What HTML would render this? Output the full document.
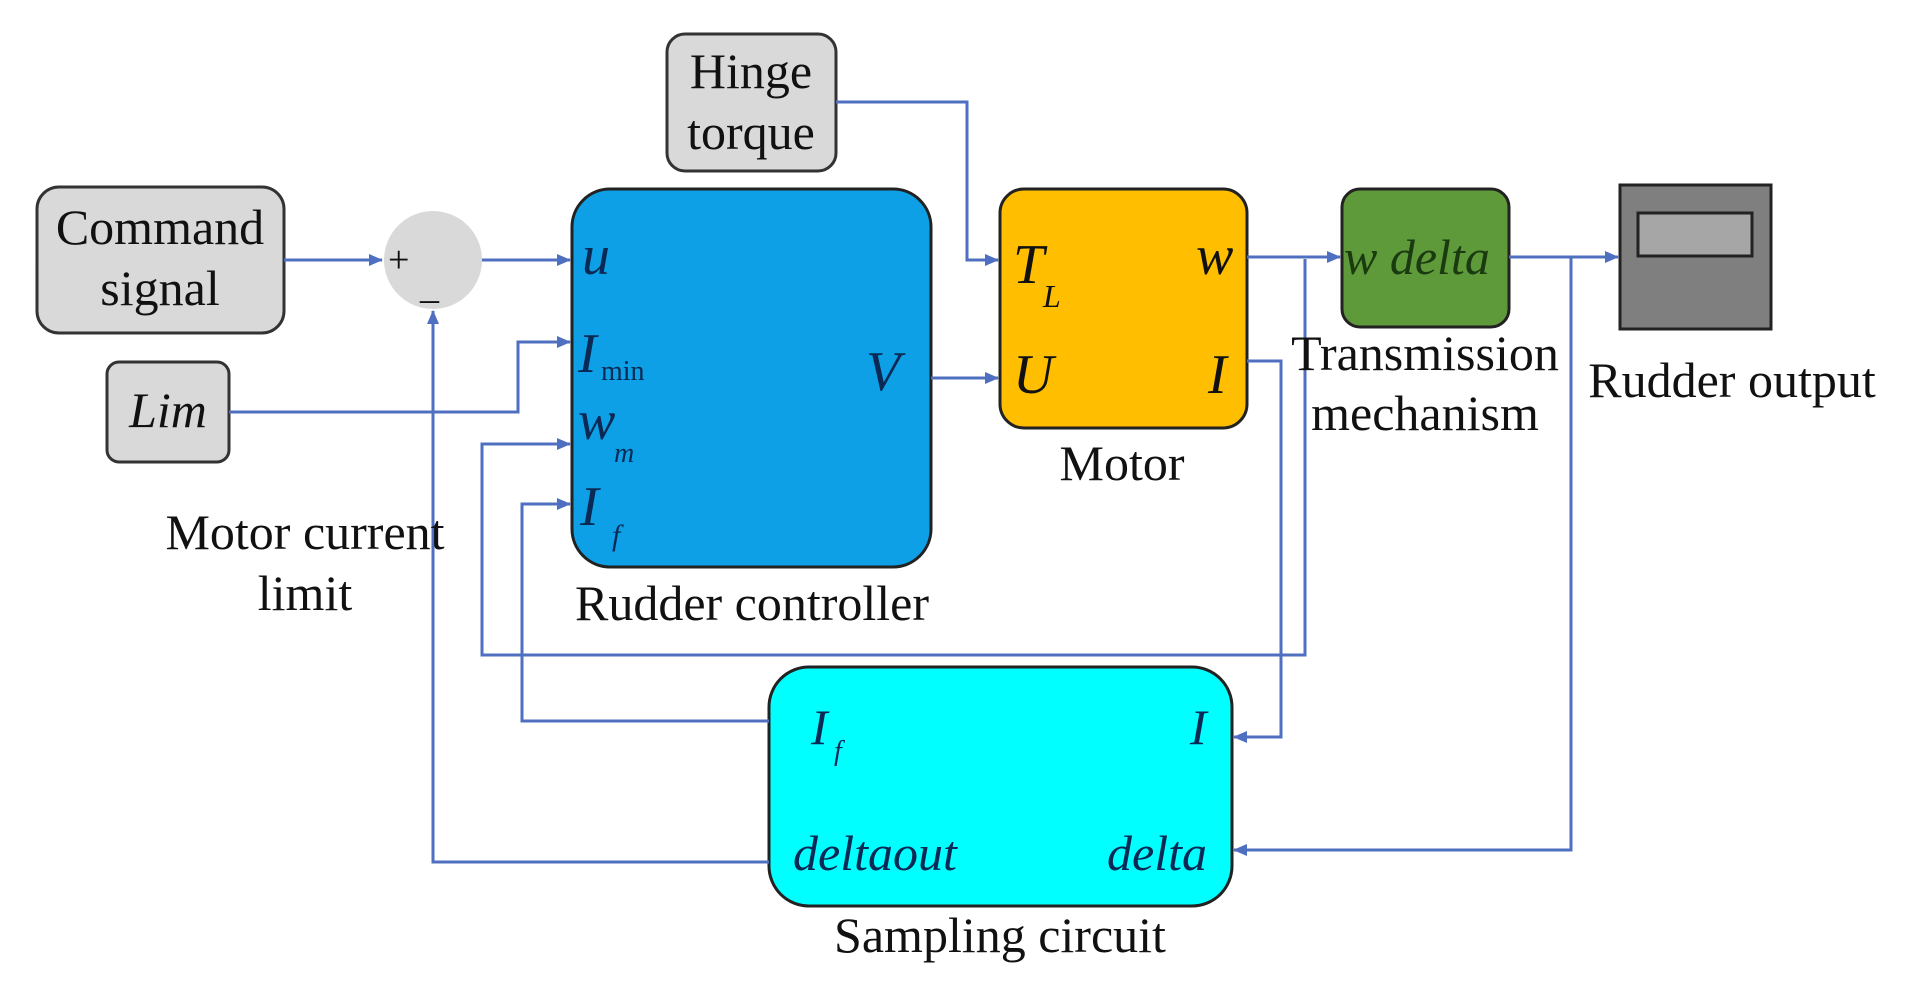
<!DOCTYPE html>
<html><head><meta charset="utf-8"><style>html,body{margin:0;padding:0;background:#fff;}svg{display:block}</style></head>
<body>
<svg width="1913" height="993" viewBox="0 0 1913 993" xmlns="http://www.w3.org/2000/svg" font-family="Liberation Serif, serif">
<defs><marker id="a" markerWidth="14" markerHeight="12" refX="13" refY="6" orient="auto" markerUnits="userSpaceOnUse"><path d="M0,0 L14,6 L0,12 z" fill="#4f6fc0"/></marker></defs>
<rect x="667" y="34" width="169" height="137" rx="18" fill="#d9d9d9" stroke="#333" stroke-width="3"/>
<rect x="37" y="187" width="247" height="146" rx="22" fill="#d9d9d9" stroke="#333" stroke-width="3"/>
<rect x="107" y="362" width="122" height="100" rx="12" fill="#d9d9d9" stroke="#333" stroke-width="3"/>
<circle cx="433" cy="260" r="49" fill="#d9d9d9"/>
<rect x="572" y="189" width="359" height="378" rx="38" fill="#0ea0e6" stroke="#222" stroke-width="3"/>
<rect x="1000" y="189" width="247" height="239" rx="24" fill="#ffbf00" stroke="#222" stroke-width="3"/>
<rect x="1342" y="189" width="167" height="138" rx="18" fill="#5f9a3a" stroke="#222" stroke-width="3"/>
<rect x="1620" y="185" width="151" height="144" fill="#7f7f7f" stroke="#222" stroke-width="3"/>
<rect x="1638" y="213" width="114" height="43" fill="#a6a6a6" stroke="#222" stroke-width="3"/>
<rect x="769" y="667" width="463" height="239" rx="40" fill="#00ffff" stroke="#222" stroke-width="3"/>
<g stroke="#4f6fc0" stroke-width="3" fill="none">
<path d="M284,260 H382" marker-end="url(#a)"/>
<path d="M482,260 H570" marker-end="url(#a)"/>
<path d="M229,412 H518 V342 H570" marker-end="url(#a)"/>
<path d="M1247,257 H1340" marker-end="url(#a)"/>
<path d="M1305,259 V655 H482 V444 H570" marker-end="url(#a)"/>
<path d="M769,721 H522 V504 H570" marker-end="url(#a)"/>
<path d="M769,862 H433 V311" marker-end="url(#a)"/>
<path d="M836,102 H967 V260 H998" marker-end="url(#a)"/>
<path d="M931,378 H998" marker-end="url(#a)"/>
<path d="M1247,361 H1281 V737 H1234" marker-end="url(#a)"/>
<path d="M1509,257 H1618" marker-end="url(#a)"/>
<path d="M1571,257 V850 H1234" marker-end="url(#a)"/>
</g>
<g fill="#111" font-size="50" text-anchor="middle">
<text x="751" y="88">Hinge</text><text x="751" y="149">torque</text>
<text x="160" y="244">Command</text><text x="160" y="305">signal</text>
<text x="168" y="427" font-style="italic">Lim</text>
<text x="1122" y="480">Motor</text>
<text x="1425" y="370">Transmission</text><text x="1425" y="430">mechanism</text>
<text x="1732" y="397">Rudder output</text>
<text x="305" y="549">Motor current</text><text x="305" y="610">limit</text>
<text x="752" y="620">Rudder controller</text>
<text x="1000" y="952">Sampling circuit</text>
</g>
<text x="388" y="272" font-size="38" fill="#111">+</text>
<text x="420" y="298" font-size="38" fill="#111">_</text>
<g fill="#0a2a55" font-style="italic" font-size="56">
<text x="582" y="274">u</text>
<text x="578" y="372">I</text><text x="601" y="380" font-size="28" font-style="normal">min</text>
<text x="578" y="439">w</text><text x="614" y="462" font-size="28">m</text>
<text x="580" y="525">I</text><text x="612" y="545" font-size="30">f</text>
<text x="866" y="390">V</text>
</g>
<g fill="#111" font-style="italic" font-size="56">
<text x="1013" y="283">T</text><text x="1043" y="307" font-size="32">L</text>
<text x="1196" y="274">w</text>
<text x="1013" y="393">U</text>
<text x="1208" y="393">I</text>
</g>
<text x="1344" y="274" font-size="50" font-style="italic" fill="#1a3a10">w delta</text>
<g fill="#0a2a55" font-style="italic" font-size="50">
<text x="811" y="744">I</text><text x="834" y="760" font-size="28">f</text>
<text x="1190" y="744">I</text>
<text x="793" y="870">deltaout</text>
<text x="1107" y="870">delta</text>
</g>
</svg>
</body></html>
